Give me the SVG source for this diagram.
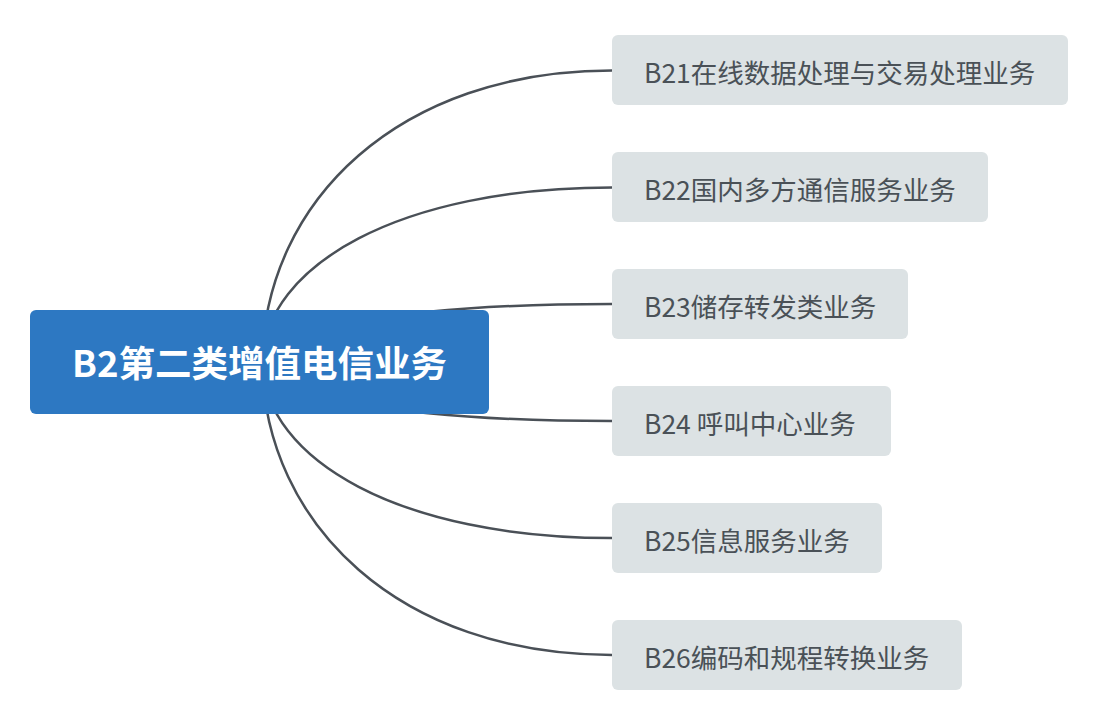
<svg xmlns="http://www.w3.org/2000/svg" width="1103" height="706" viewBox="0 0 1103 706">
<style>
.edge{fill:none;stroke:#4a5057;stroke-width:2.5;stroke-linecap:round}
.box{fill:#dce2e4}
.lbl{font-family:"Noto Sans CJK SC","Noto Sans",sans-serif;font-size:26.5px;fill:#4a5157}
.root{fill:#2d78c2}
.rootlbl{font-family:"Noto Sans CJK SC","Noto Sans",sans-serif;font-size:36.5px;font-weight:bold;fill:#ffffff}
</style>
<rect width="1103" height="706" fill="#ffffff"/>
<g id="connectors">
<path class="edge" d="M262,362.5 C265,200 400,70.5 612,70.5"/>
<path class="edge" d="M262,362.5 C265,265 400,187.5 612,187.5"/>
<path class="edge" d="M262,362.5 C265,330 400,304 612,304"/>
<path class="edge" d="M262,362.5 C265,395 400,421 612,421"/>
<path class="edge" d="M262,362.5 C265,460 400,538 612,538"/>
<path class="edge" d="M262,362.5 C265,525 400,655 612,655"/>
</g>
<g id="root">
<rect class="root" x="30" y="310" width="459" height="104" rx="6"/>
<text class="rootlbl" x="259.5" y="376.5" text-anchor="middle">B2第二类增值电信业务</text>
</g>
<g id="b21">
<rect class="box" x="612" y="35" width="456" height="70" rx="6"/>
<text class="lbl" x="644" y="82.5">B21在线数据处理与交易处理业务</text>
</g>
<g id="b22">
<rect class="box" x="612" y="152" width="376" height="70" rx="6"/>
<text class="lbl" x="644" y="199.5">B22国内多方通信服务业务</text>
</g>
<g id="b23">
<rect class="box" x="612" y="269" width="296" height="70" rx="6"/>
<text class="lbl" x="644" y="316.5">B23储存转发类业务</text>
</g>
<g id="b24">
<rect class="box" x="612" y="386" width="279" height="70" rx="6"/>
<text class="lbl" x="644" y="433.5">B24 呼叫中心业务</text>
</g>
<g id="b25">
<rect class="box" x="612" y="503" width="270" height="70" rx="6"/>
<text class="lbl" x="644" y="550.5">B25信息服务业务</text>
</g>
<g id="b26">
<rect class="box" x="612" y="620" width="350" height="70" rx="6"/>
<text class="lbl" x="644" y="667.5">B26编码和规程转换业务</text>
</g>
</svg>
